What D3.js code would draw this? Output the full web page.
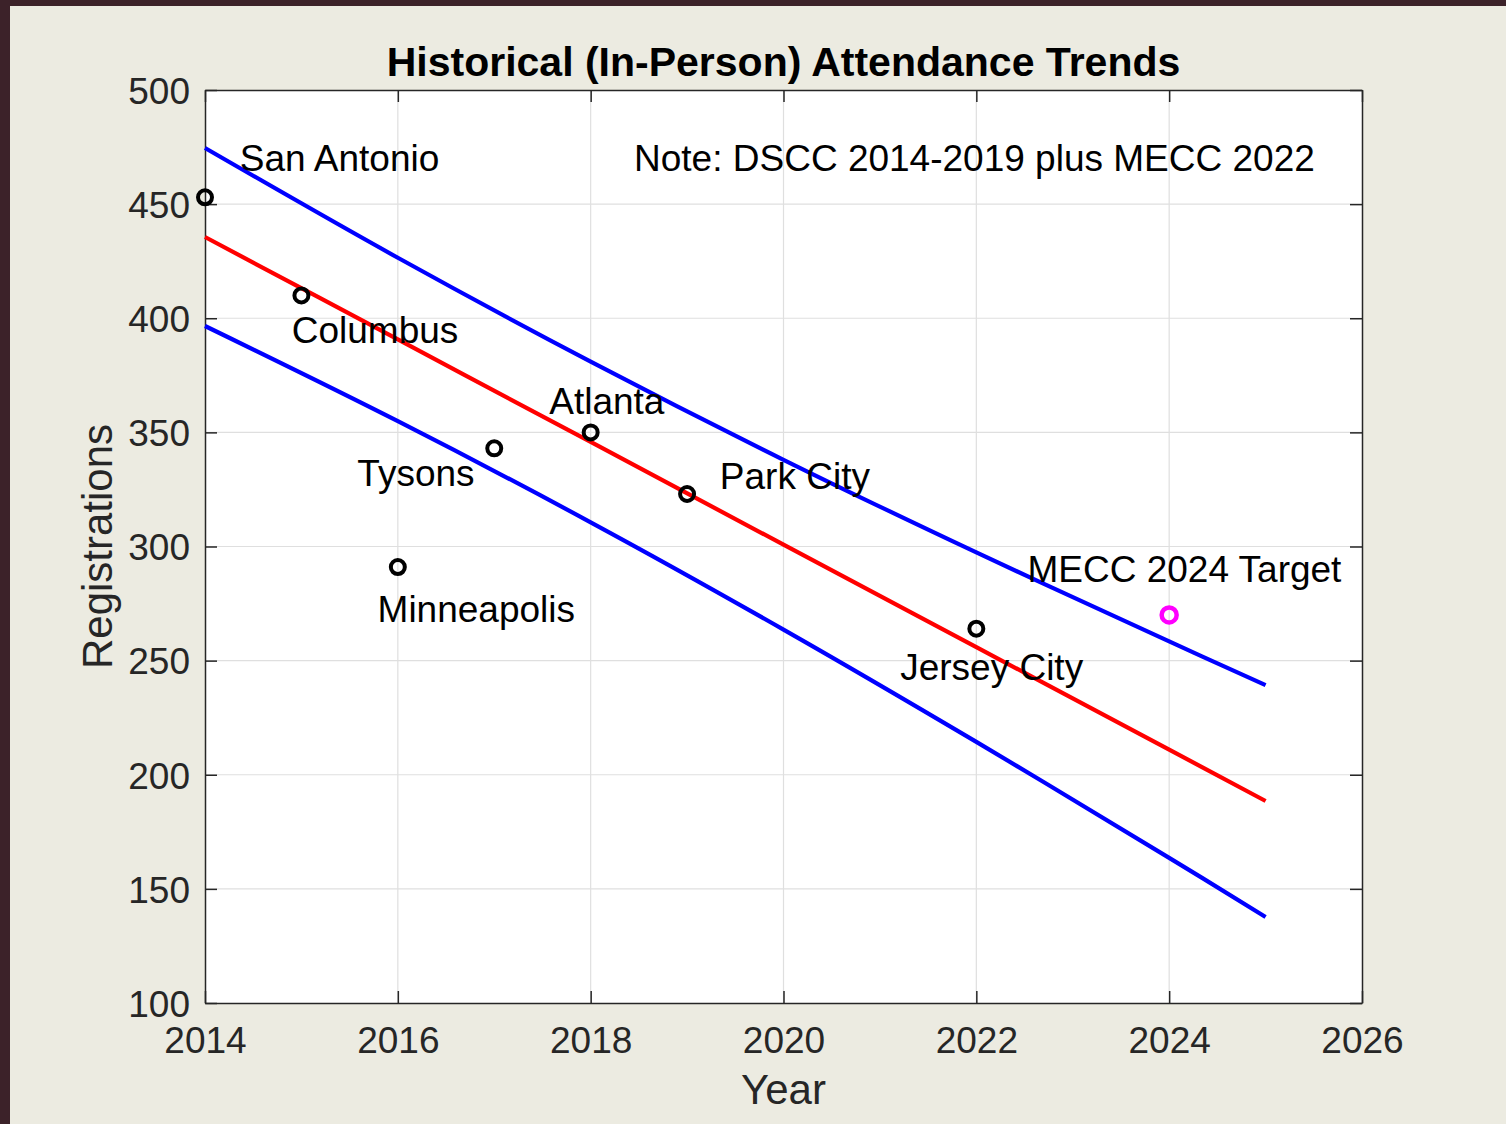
<!DOCTYPE html>
<html>
  <head>
    <title>Historical Attendance Trends</title>
    <meta charset="UTF-8" />
    <style>
      body { margin: 0; background: #3c2229; }
      text { font-family: "Liberation Sans", Arial, sans-serif; }
    </style>
  </head>
  <body>
    <script src="https://cdn.jsdelivr.net/npm/d3@7/dist/d3.min.js"></script>
    <script>
      // observed registrations
      var years = [2014, 2015, 2016, 2017, 2018, 2019, 2022];
      var registrations = [453, 410, 291, 343, 350, 323, 264];

      // target point
      var targetYear = 2024;
      var targetValue = 270;

      // trend line and bands
      var fitYears = [2014, 2016, 2018, 2020, 2022, 2024, 2025];
      var fitValues = [435.6, 390.7, 345.8, 300.8, 255.9, 211.0, 188.5];
      var upperBand = [474.6, 426.5, 381.0, 338.0, 297.4, 258.4, 239.3];
      var lowerBand = [396.6, 354.9, 310.6, 263.6, 214.4, 163.6, 137.7];

      // text annotations, in data units (left / middle anchored)
      var labelText = ["San Antonio", "Columbus", "Minneapolis", "Tysons", "Atlanta",
                       "Park City", "Jersey City", "MECC 2024 Target",
                       "Note: DSCC 2014-2019 plus MECC 2022"];
      var labelX = [2014.36, 2014.90, 2015.79, 2015.58, 2017.57, 2019.34, 2021.21, 2022.53, 2018.45];
      var labelY = [470.2, 394.9, 272.6, 332.2, 363.7, 330.9, 247.2, 290.1, 470.2];

      var xTicks = [2014, 2016, 2018, 2020, 2022, 2024, 2026];
      var yTicks = [100, 150, 200, 250, 300, 350, 400, 450, 500];

      var W = 1506, H = 1124;
      var pLeft = 205, pRight = 1362, pTop = 90, pBottom = 1003;

      var svg = d3.select("body")
                  .append("svg")
                  .attr("width", W)
                  .attr("height", H)
                  .style("display", "block");

      // outer frame: dark strip on left and top, beige figure
      svg.append("rect").attr("x", 0).attr("y", 0).attr("width", W).attr("height", H).attr("fill", "#3c2229");
      svg.append("rect").attr("x", 10).attr("y", 6).attr("width", W - 10).attr("height", H - 6).attr("fill", "#ecebe1");

      var x = d3.scaleLinear().domain([2014, 2026]).range([pLeft, pRight]);
      var y = d3.scaleLinear().domain([100, 500]).range([pBottom, pTop]);

      svg.append("rect")
         .attr("x", pLeft).attr("y", pTop)
         .attr("width", pRight - pLeft).attr("height", pBottom - pTop)
         .attr("fill", "white");

      // grid
      var grid = svg.append("g");
      grid.selectAll(".gx").data(xTicks.slice(1, -1)).enter().append("line")
          .attr("x1", function(d) { return x(d); }).attr("x2", function(d) { return x(d); })
          .attr("y1", pTop).attr("y2", pBottom)
          .attr("stroke", "#dfdfdf").attr("stroke-width", 1.2);
      grid.selectAll(".gy").data(yTicks.slice(1, -1)).enter().append("line")
          .attr("y1", function(d) { return y(d); }).attr("y2", function(d) { return y(d); })
          .attr("x1", pLeft).attr("x2", pRight)
          .attr("stroke", "#dfdfdf").attr("stroke-width", 1.2);

      // axes with inward ticks
      var tickLen = 12;
      var axisColor = "#262626";

      var xAxis = svg.append("g").attr("transform", "translate(0," + pBottom + ")")
          .call(d3.axisBottom(x).tickValues(xTicks).tickFormat(d3.format("d")).tickSizeInner(-tickLen).tickSizeOuter(0).tickPadding(24));
      var xAxisTop = svg.append("g").attr("transform", "translate(0," + pTop + ")")
          .call(d3.axisTop(x).tickValues(xTicks).tickFormat("").tickSizeInner(-tickLen).tickSizeOuter(0));
      var yAxis = svg.append("g").attr("transform", "translate(" + pLeft + ",0)")
          .call(d3.axisLeft(y).tickValues(yTicks).tickSizeInner(-tickLen).tickSizeOuter(0).tickPadding(15));
      var yAxisRight = svg.append("g").attr("transform", "translate(" + pRight + ",0)")
          .call(d3.axisRight(y).tickValues(yTicks).tickFormat("").tickSizeInner(-tickLen).tickSizeOuter(0));

      [xAxis, xAxisTop, yAxis, yAxisRight].forEach(function(a) {
        a.select(".domain").attr("stroke", axisColor).attr("stroke-width", 1.5);
        a.selectAll(".tick line").attr("stroke", axisColor).attr("stroke-width", 1.5);
        a.selectAll(".tick text")
         .attr("fill", axisColor)
         .style("font-family", "'Liberation Sans', Arial, sans-serif")
         .style("font-size", "37px");
      });
      xAxis.selectAll(".tick text").attr("dy", "0.71em");
      yAxis.selectAll(".tick text").attr("dy", "0.36em");

      // bands and fit
      var line = d3.line()
                   .x(function(d) { return x(d[0]); })
                   .y(function(d) { return y(d[1]); })
                   .curve(d3.curveCatmullRom);

      var series = [
        { vals: upperBand, c: "#0000ff" },
        { vals: lowerBand, c: "#0000ff" },
        { vals: fitValues, c: "#ff0000" }
      ];
      svg.append("g").selectAll("path").data(series).enter().append("path")
         .attr("d", function(s) { return line(fitYears.map(function(yr, i) { return [yr, s.vals[i]]; })); })
         .attr("fill", "none")
         .attr("stroke", function(s) { return s.c; })
         .attr("stroke-width", 4.2);

      // observed points
      svg.append("g").selectAll("circle").data(years).enter().append("circle")
         .attr("cx", function(d) { return x(d); })
         .attr("cy", function(d, i) { return y(registrations[i]); })
         .attr("r", 7)
         .attr("fill", "none")
         .attr("stroke", "black")
         .attr("stroke-width", 4);

      svg.append("circle")
         .attr("cx", x(targetYear))
         .attr("cy", y(targetValue))
         .attr("r", 7.5)
         .attr("fill", "none")
         .attr("stroke", "#ff00ff")
         .attr("stroke-width", 4.5);

      // annotations
      svg.append("g").selectAll("text").data(labelText).enter().append("text")
         .attr("x", function(d, i) { return x(labelX[i]); })
         .attr("y", function(d, i) { return y(labelY[i]); })
         .attr("dy", "0.36em")
         .attr("font-size", 37)
         .attr("fill", "black")
         .text(function(d) { return d; });

      // title and axis labels
      svg.append("text")
         .attr("x", (pLeft + pRight) / 2).attr("y", 61).attr("dy", "0.36em")
         .attr("text-anchor", "middle")
         .attr("font-size", 41).attr("font-weight", "bold")
         .attr("fill", "black")
         .text("Historical (In-Person) Attendance Trends");

      svg.append("text")
         .attr("x", (pLeft + pRight) / 2).attr("y", 1089).attr("dy", "0.36em")
         .attr("text-anchor", "middle")
         .attr("font-size", 42)
         .attr("fill", axisColor)
         .text("Year");

      svg.append("text")
         .attr("transform", "translate(97," + ((pTop + pBottom) / 2) + ") rotate(-90)")
         .attr("dy", "0.36em")
         .attr("text-anchor", "middle")
         .attr("font-size", 42)
         .attr("fill", axisColor)
         .text("Registrations");
    </script>
  </body>
</html>
